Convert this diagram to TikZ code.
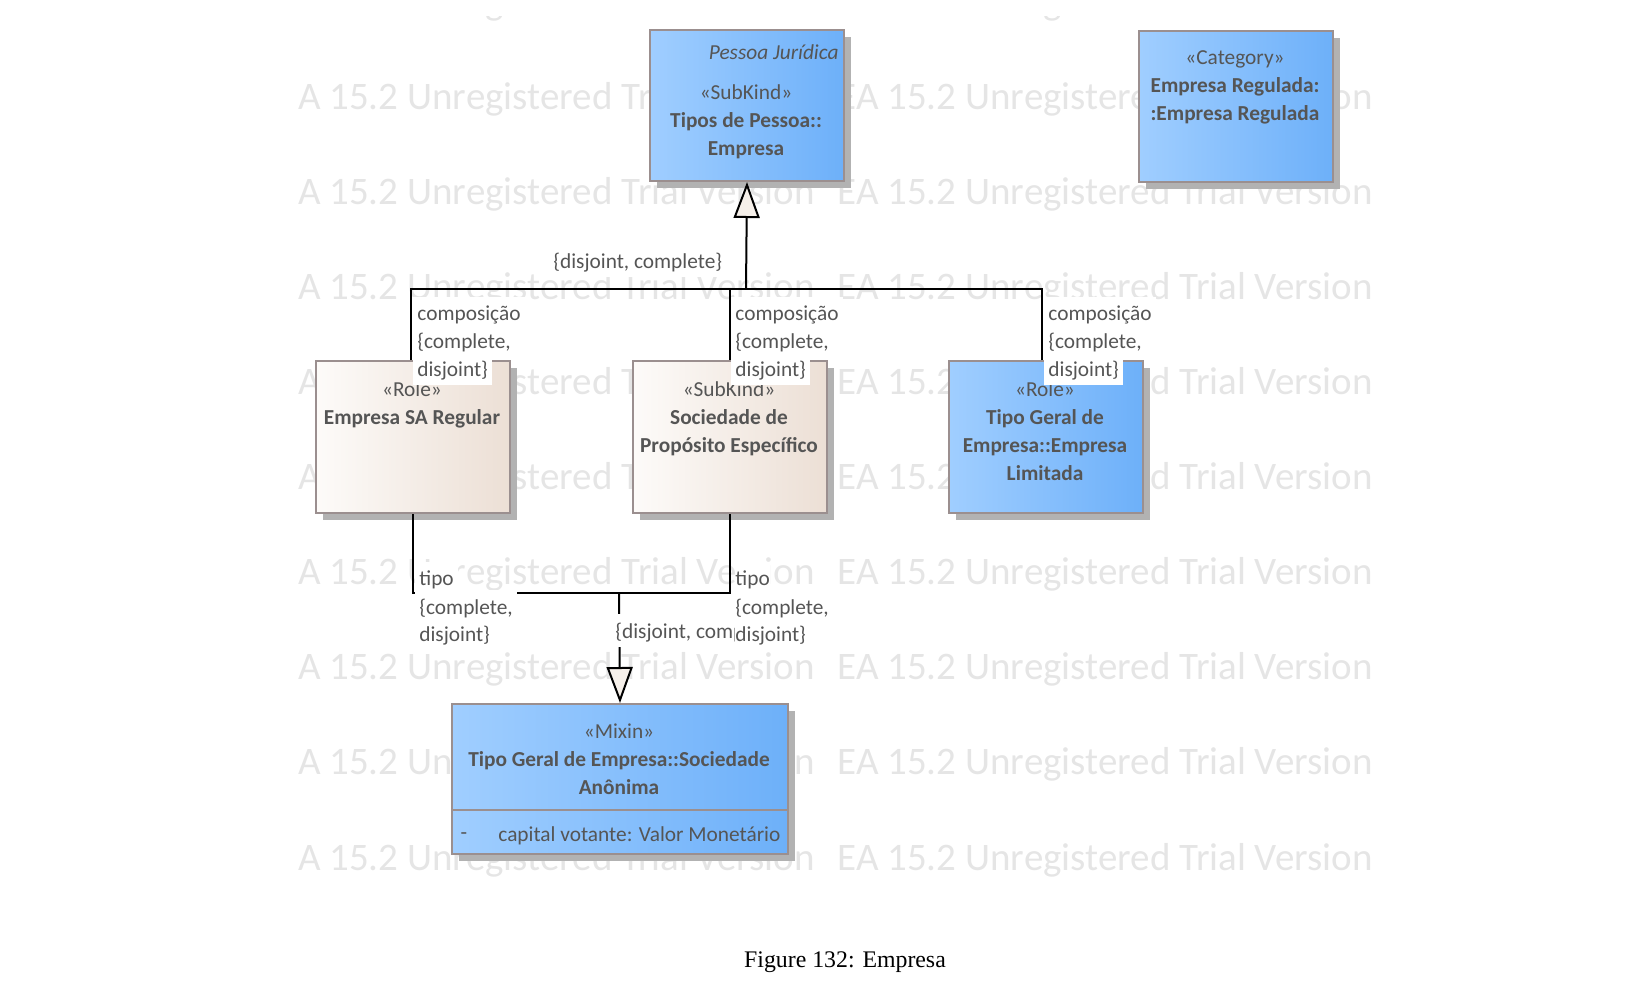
\documentclass[tikz,border=0pt]{standalone}
\usepackage{fontspec}
\setmainfont{Carlito}
\newfontfamily\capfont{Liberation Serif}
\usetikzlibrary{arrows.meta,shadows}
\definecolor{txt}{HTML}{555555}
\definecolor{bord}{HTML}{9B8F8F}
\definecolor{blueL}{HTML}{A0CEFF}
\definecolor{blueR}{HTML}{6DB0F9}
\definecolor{beigeL}{HTML}{FDFBF9}
\definecolor{beigeR}{HTML}{ECDFD5}
\definecolor{trifill}{HTML}{F6F0EA}
\definecolor{wmc}{HTML}{E5E5E5}
\newcommand\sx{\rule[-3pt]{0pt}{8pt}}
\tikzset{
  wm/.style={font=\fontsize{19.5}{23}\selectfont, text=wmc, inner sep=0pt, anchor=west},
  ubox/.style={draw=bord, line width=1pt, inner sep=0pt, anchor=north west,
    minimum width=97pt, minimum height=76pt,
    drop shadow={shadow xshift=3.5pt, shadow yshift=-3.5pt, fill=black!30, opacity=1}},
  bluebox/.style={ubox, left color=blueL, right color=blueR},
  beigebox/.style={ubox, left color=beigeL, right color=beigeR},
  btxt/.style={align=center, font=\fontsize{10.67}{14}\selectfont, text=txt, inner sep=0pt},
  lbl/.style={anchor=base west, font=\fontsize{10.67}{14}\selectfont, text=txt, fill=white,
    inner xsep=2pt, inner ysep=0pt, text height=12pt, text depth=4.5pt},
  conn/.style={draw=black, line width=1pt},
  gen/.style={conn, -{Triangle[length=18pt, width=13pt, fill=trifill]}},
}
\begin{document}
\begin{tikzpicture}[x=0.5pt,y=-0.5pt]
\useasboundingbox (0,0) rectangle (1652,980);
% watermark
\begin{scope}
\clip (297,16) rectangle (1385,880);
\foreach \y [count=\i] in {4,99.1,194.2,289.2,384.3,479.4,574.5,669.6,764.7,859.8} {
  \node[wm] (wmL\i) at (279,\y) {EA 15.2 Unregistered Trial Version};
  \node[wm] (wmR\i) at (837,\y) {EA 15.2 Unregistered Trial Version};
}
\end{scope}
% boxes
\node[bluebox, minimum height=75.5pt] (pj) at (649,29) {};
\node[bluebox, minimum height=75.5pt] (cat) at (1138,30) {};
\node[beigebox] (sa) at (315,360) {};
\node[beigebox] (spe) at (632,360) {};
\node[bluebox] (lim) at (948,360) {};
\node[bluebox, minimum width=168pt, minimum height=75pt] (mix) at (451,703) {};
\coordinate (sepy) at (0,810);
\draw[bord, line width=1pt] (mix.west |- sepy) -- (mix.east |- sepy);
% box texts
\node[btxt, anchor=east, font=\fontsize{10.67}{14}\selectfont\itshape] (pjn) at (839,52) {Pessoa Jurídica};
\node[btxt] (pjt) at (746,123.5) {\sx«SubKind»\\\textbf{Tipos de Pessoa::}\\\sx\textbf{Empresa}};
\node[btxt] (catt) at (1235,89) {\sx«Category»\\\textbf{Empresa Regulada:}\\\sx\textbf{:Empresa Regulada}};
\node[btxt] (sat) at (412,406.5) {\sx«Role»\\\sx\textbf{Empresa SA Regular}};
\node[btxt] (spet) at (729,420) {\sx«SubKind»\\\textbf{Sociedade de}\\\sx\textbf{Propósito Específico}};
\node[btxt] (limt) at (1045,434.5) {\sx«Role»\\\textbf{Tipo Geral de}\\\textbf{Empresa::Empresa}\\\sx\textbf{Limitada}};
\node[btxt] (mixt) at (619,762) {\sx«Mixin»\\\textbf{Tipo Geral de Empresa::Sociedade}\\\sx\textbf{Anônima}};
\node[btxt] (mixd) at (464,836) {-};
\node[btxt, anchor=west] (mixa) at (498,836) {capital votante: Valor Monetário};
% connectors
\coordinate (j1) at (746,289);
\coordinate (j2) at (619,593);
\draw[conn] ([xshift=-1pt]sa.north) |- (j1);
\draw[conn] (spe.north) -- (spe.north |- j1);
\draw[conn] ([xshift=-2pt]lim.north) |- (j1);
\draw[gen] (j1) -- (pj.south);
\draw[conn] (sa.south) |- (j2);
\draw[conn] (spe.south) |- (j2);
\draw[gen] (j2) -- (mix.north);
% labels (anchored at their baselines)
\node[lbl] (g1) at (549,268) {\{disjoint, complete\}};
\node[lbl] (c1a) at (413,320.7) {composição};
\node[lbl] (c1b) at (413,348.2) {\{complete,};
\node[lbl] (c1c) at (413,376.2) {disjoint\}};
\node[lbl] (c2a) at (731,320.7) {composição};
\node[lbl] (c2b) at (731,348.2) {\{complete,};
\node[lbl] (c2c) at (731,376.2) {disjoint\}};
\node[lbl] (c3a) at (1044,320.7) {composição};
\node[lbl] (c3b) at (1044,348.2) {\{complete,};
\node[lbl] (c3c) at (1044,376.2) {disjoint\}};
\node[lbl] (g2) at (611,638) {\{disjoint, complete\}};
\node[lbl] (t1a) at (415,585.7) {tipo};
\node[lbl] (t1b) at (415,614.2) {\{complete,};
\node[lbl] (t1c) at (415,641.7) {disjoint\}};
\node[lbl, inner xsep=0pt] (t2a) at (735,585.7) {tipo};
\node[lbl, inner xsep=0pt] (t2b) at (735,614.2) {\{complete,};
\node[lbl, inner xsep=0pt] (t2c) at (735,641.7) {disjoint\}};
% caption
\node[font=\capfont\fontsize{11.9}{14}\selectfont, inner sep=0pt] (cap) at (845,962) {Figure 132: Empresa};
\end{tikzpicture}
\end{document}
